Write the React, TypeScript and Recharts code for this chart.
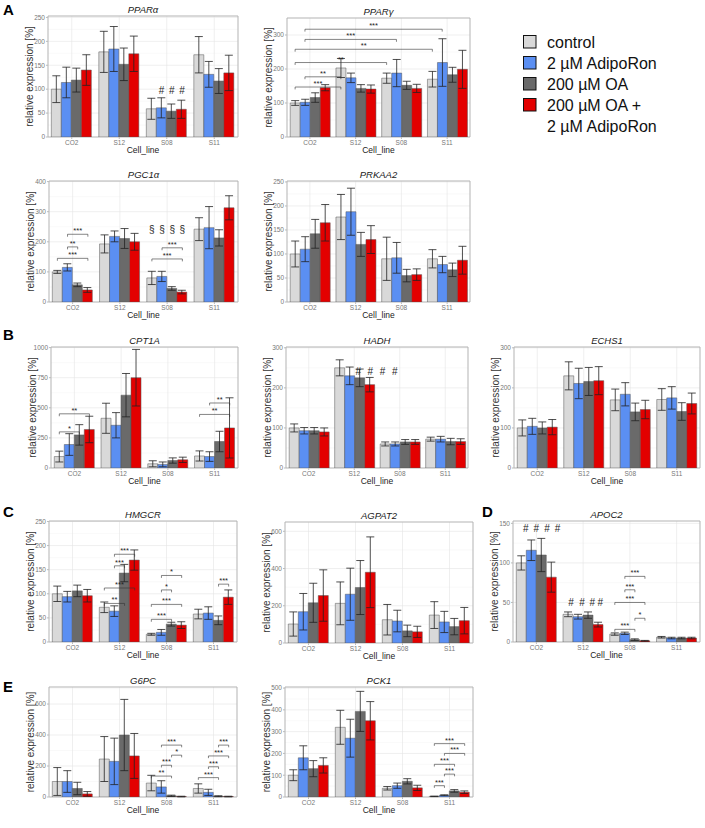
import React from 'react';
import { BarChart, Bar, XAxis, YAxis, CartesianGrid, ErrorBar, ReferenceLine, ReferenceDot, ReferenceArea } from 'recharts';

const CELL_LINES = ['CO2', 'S12', 'S08', 'S11'];
const TREATMENTS = ['control', '2 µM AdipoRon', '200 µM OA', '200 µM OA +', '2 µM AdipoRon'];
const COLORS = ['#d9d9d9', '#5b8ff2', '#6a6a6a', '#e30000'];

// rows = cell lines (CO2, S12, S08, S11); columns = treatments
const PPARA_MEAN = [[100, 114, 119, 140], [178, 184, 152, 174], [59, 61, 54, 58], [172, 131, 117, 134]];
const PPARA_SD = [[28, 32, 25, 32], [43, 47, 34, 37], [22, 21, 15, 19], [38, 27, 26, 37]];
const PPARG_MEAN = [[100, 102, 116, 145], [203, 174, 143, 141], [173, 188, 152, 143], [170, 219, 183, 199]];
const PPARG_SD = [[7, 9, 14, 9], [28, 14, 11, 12], [15, 40, 12, 12], [23, 70, 22, 56]];
const PGC1A_MEAN = [[100, 115, 57, 40], [193, 218, 211, 200], [80, 85, 45, 33], [242, 247, 213, 313]];
const PGC1A_SD = [[5, 12, 6, 8], [30, 18, 33, 28], [22, 17, 6, 6], [38, 70, 27, 40]];
const PRKAA2_MEAN = [[100, 110, 142, 165], [177, 188, 120, 130], [90, 92, 55, 57], [90, 78, 67, 87]];
const PRKAA2_SD = [[27, 26, 30, 38], [47, 49, 25, 29], [45, 32, 13, 12], [19, 17, 14, 29]];
const CPT1A_MEAN = [[95, 195, 275, 320], [413, 355, 605, 750], [35, 30, 62, 68], [100, 95, 220, 333]];
const CPT1A_SD = [[45, 90, 85, 110], [125, 105, 180, 235], [25, 20, 22, 22], [42, 40, 85, 250]];
const HADH_MEAN = [[100, 93, 93, 90], [250, 230, 225, 208], [60, 60, 65, 65], [72, 72, 66, 66]];
const HADH_SD = [[10, 8, 8, 10], [20, 22, 22, 18], [5, 5, 6, 6], [5, 7, 8, 7]];
const ECHS1_MEAN = [[100, 104, 100, 102], [230, 211, 216, 218], [170, 184, 140, 146], [171, 175, 141, 161]];
const ECHS1_SD = [[20, 20, 15, 19], [35, 38, 35, 35], [27, 29, 22, 23], [27, 28, 22, 26]];
const HMGCR_MEAN = [[100, 94, 106, 96], [72, 64, 143, 170], [16, 20, 37, 35], [58, 60, 45, 93]];
const HMGCR_SD = [[16, 11, 12, 13], [11, 11, 18, 21], [2, 6, 4, 7], [10, 13, 9, 15]];
const AGPAT2_MEAN = [[102, 168, 216, 255], [213, 262, 298, 380], [125, 118, 65, 60], [150, 113, 88, 120]];
const AGPAT2_SD = [[65, 98, 105, 138], [115, 140, 145, 190], [82, 58, 31, 30], [72, 57, 44, 71]];
const APOC2_MEAN = [[100, 116, 110, 82], [35, 32, 34, 22], [10, 11, 3, 1.5], [6, 5, 5, 5]];
const APOC2_SD = [[9, 13, 21, 19], [3, 3, 4, 3], [1.5, 1.5, 1, 0.5], [1, 1, 1, 1]];
const G6PC_MEAN = [[100, 100, 55, 20], [245, 230, 400, 265], [90, 65, 8, 3], [55, 30, 5, 3]];
const G6PC_SD = [[90, 70, 40, 15], [145, 150, 230, 145], [50, 40, 4, 2], [30, 20, 3, 2]];
const PCK1_MEAN = [[100, 180, 130, 145], [320, 270, 393, 350], [40, 52, 72, 42], [3, 8, 28, 22]];
const PCK1_SD = [[25, 55, 37, 35], [78, 87, 92, 88], [8, 12, 12, 12], [1, 2, 6, 6]];

// significance brackets: [cellFrom, treatFrom, cellTo, treatTo, height, label]
const PPARG_BRACKETS = [[0, 0, 1, 0, 147, '***'], [0, 1, 1, 0, 177, '**'], [0, 0, 2, 0, 219, '**'], [0, 0, 3, 0, 258, '**'], [0, 1, 2, 1, 287, '***'], [0, 1, 3, 1, 317, '***']];
const PGC1A_BRACKETS = [[0, 1, 0, 3, 225, '***'], [0, 1, 0, 2, 183, '**'], [0, 0, 0, 3, 145, '***'], [2, 1, 2, 3, 180, '***'], [2, 0, 2, 3, 143, '***']];
const CPT1A_BRACKETS = [[0, 0, 0, 3, 450, '**'], [0, 0, 0, 2, 300, '*'], [3, 1, 3, 3, 540, '**'], [3, 0, 3, 3, 445, '**']];
const HMGCR_BRACKETS = [[1, 1, 1, 3, 182, '***'], [1, 1, 1, 2, 158, '***'], [1, 0, 1, 3, 112, '***'], [1, 0, 1, 2, 80, '**'], [2, 1, 2, 3, 138, '*'], [2, 1, 2, 2, 108, '*'], [2, 0, 2, 3, 78, '***'], [2, 0, 2, 2, 47, '***'], [3, 2, 3, 3, 120, '***']];
const APOC2_BRACKETS = [[2, 1, 2, 3, 83, '***'], [2, 1, 2, 2, 66, '***'], [2, 0, 2, 3, 50, '***'], [2, 2, 2, 3, 30, '*'], [2, 0, 2, 2, 16, '***']];
const G6PC_BRACKETS = [[2, 1, 2, 3, 335, '***'], [2, 2, 2, 3, 270, '*'], [2, 1, 2, 2, 205, '***'], [2, 0, 2, 2, 135, '**'], [3, 2, 3, 3, 335, '***'], [3, 1, 3, 3, 265, '***'], [3, 1, 3, 2, 195, '***'], [3, 0, 3, 2, 125, '***']];
const PCK1_BRACKETS = [[3, 0, 3, 3, 245, '***'], [3, 1, 3, 3, 200, '***'], [3, 0, 3, 2, 150, '***'], [3, 1, 3, 2, 105, '***'], [3, 0, 3, 1, 52, '***']];

// symbols: [cell, treatment slot, height, label]
const PPARA_MARKS = [[2, 1, 98, '#'], [2, 2, 98, '#'], [2, 3, 98, '#']];
const PGC1A_MARKS = [[2, 0, 240, '§'], [2, 1, 240, '§'], [2, 2, 240, '§'], [2, 3, 240, '§']];
const HADH_MARKS = [[1, 1.9, 242, '#'], [1, 3.15, 242, '#'], [1, 4.4, 242, '#'], [1, 5.65, 242, '#']];
const APOC2_MARKS = [[0, 0.45, 143, '#'], [0, 1.5, 143, '#'], [0, 2.55, 143, '#'], [0, 3.6, 143, '#'], [1, 0.3, 50, '#'], [1, 1.4, 50, '#'], [1, 2.4, 50, '#'], [1, 3.2, 50, '#']];

const FONT = '"Liberation Sans", Arial, sans-serif';
const GAP = 0.07;

const PANELS = [
  { title: 'PPARα', mean: PPARA_MEAN, sd: PPARA_SD, box: [48, 16, 238, 137], top: 253, ticks: [0, 50, 100, 150, 200, 250], brackets: [], marks: PPARA_MARKS },
  { title: 'PPARγ', mean: PPARG_MEAN, sd: PPARG_SD, box: [287, 18, 470, 137], top: 350, ticks: [0, 100, 200, 300], brackets: PPARG_BRACKETS, marks: [] },
  { title: 'PGC1α', mean: PGC1A_MEAN, sd: PGC1A_SD, box: [49, 181, 238, 302], top: 402, ticks: [0, 100, 200, 300, 400], brackets: PGC1A_BRACKETS, marks: PGC1A_MARKS },
  { title: 'PRKAA2', mean: PRKAA2_MEAN, sd: PRKAA2_SD, box: [287, 181, 470, 302], top: 252, ticks: [0, 50, 100, 150, 200, 250], brackets: [], marks: [] },
  { title: 'CPT1A', mean: CPT1A_MEAN, sd: CPT1A_SD, box: [51, 347, 238, 468], top: 1005, ticks: [0, 250, 500, 750, 1000], brackets: CPT1A_BRACKETS, marks: [] },
  { title: 'HADH', mean: HADH_MEAN, sd: HADH_SD, box: [286, 347, 468, 468], top: 302, ticks: [0, 100, 200, 300], brackets: [], marks: HADH_MARKS },
  { title: 'ECHS1', mean: ECHS1_MEAN, sd: ECHS1_SD, box: [514, 347, 700, 468], top: 302, ticks: [0, 100, 200, 300], brackets: [], marks: [] },
  { title: 'HMGCR', mean: HMGCR_MEAN, sd: HMGCR_SD, box: [49, 521, 237, 642], top: 251, ticks: [0, 50, 100, 150, 200, 250], brackets: HMGCR_BRACKETS, marks: [] },
  { title: 'AGPAT2', mean: AGPAT2_MEAN, sd: AGPAT2_SD, box: [285, 522, 473, 643], top: 650, ticks: [0, 200, 400, 600], brackets: [], marks: [] },
  { title: 'APOC2', mean: APOC2_MEAN, sd: APOC2_SD, box: [513, 521, 700, 642], top: 153, ticks: [0, 50, 100, 150], brackets: APOC2_BRACKETS, marks: APOC2_MARKS },
  { title: 'G6PC', mean: G6PC_MEAN, sd: G6PC_SD, box: [49, 687, 237, 797], top: 710, ticks: [0, 200, 400, 600], brackets: G6PC_BRACKETS, marks: [] },
  { title: 'PCK1', mean: PCK1_MEAN, sd: PCK1_SD, box: [285, 687, 473, 797], top: 505, ticks: [0, 100, 200, 300, 400, 500], brackets: PCK1_BRACKETS, marks: [] },
];

const LETTERS = [['A', 3, 15], ['B', 3, 340], ['C', 3, 517], ['D', 482, 517], ['E', 3, 692]];

function Panel({ cfg }: { cfg: any }) {
  const [l, t, r, b] = cfg.box;
  const data = CELL_LINES.map((c, i) => {
    const row: any = { cell: c, idx: i + 0.5 };
    for (let k = 0; k < 4; k++) {
      row['v' + k] = cfg.mean[i][k];
      row['e' + k] = cfg.sd[i][k];
    }
    return row;
  });
  const step = cfg.ticks[1] - cfg.ticks[0];
  const minor: number[] = [];
  for (let v = step / 2; v < cfg.top; v += step) minor.push(v);
  const tip = cfg.top * 0.02;
  const bw = (1 - 2 * GAP) / 4;
  const xpos = (g: number, k: number) => g + 0.5 + (k - 1.5) * bw;
  const w = r - l + 44;
  const h = b - t + 24;
  const lineProps = { xAxisId: 'n', stroke: '#333', strokeWidth: 0.6, ifOverflow: 'visible' as const };
  return (
    <div style={{ position: 'absolute', left: l - 40, top: t - 2 }}>
      <BarChart width={w} height={h} data={data} margin={{ top: 2, right: 4, bottom: 0, left: 6 }} barCategoryGap={`${GAP * 100}%`} barGap={0}>
        <CartesianGrid horizontalValues={minor} vertical={false} stroke="#f1f1f1" strokeWidth={0.4} />
        <CartesianGrid stroke="#e4e4e4" strokeWidth={0.6} />
        <XAxis dataKey="cell" xAxisId={0} height={22} interval={0} tick={{ fontSize: 6.5, fill: '#777', fontFamily: FONT }} tickSize={2} tickMargin={1} tickLine={{ stroke: '#bbb' }} axisLine={false} />
        <XAxis xAxisId="n" type="number" dataKey="idx" domain={[0, 4]} hide allowDataOverflow />
        <YAxis width={34} domain={[0, cfg.top]} ticks={cfg.ticks} interval={0} allowDataOverflow tick={{ fontSize: 6.5, fill: '#777', fontFamily: FONT }} tickSize={2} tickMargin={1} tickLine={{ stroke: '#bbb' }} axisLine={false} />
        {[0, 1, 2, 3].map((k) => (
          <Bar key={k} dataKey={'v' + k} name={TREATMENTS[k]} fill={COLORS[k]} stroke="#555" strokeWidth={0.5} isAnimationActive={false}>
            <ErrorBar dataKey={'e' + k} width={4} stroke="#222" strokeWidth={0.8} />
          </Bar>
        ))}
        <ReferenceArea xAxisId="n" x1={0} x2={4} y1={0} y2={cfg.top} fill="none" stroke="#b3b3b3" strokeWidth={0.9} ifOverflow="visible" />
        {cfg.brackets.flatMap((br: any, i: number) => {
          const [g1, k1, g2, k2, y, lab] = br;
          const x1 = xpos(g1, k1);
          const x2 = xpos(g2, k2);
          return [
            <ReferenceLine key={'h' + i} {...lineProps} segment={[{ x: x1, y }, { x: x2, y }]} label={{ value: lab, position: 'top', offset: 1, fontSize: 7.5, fill: '#222', fontFamily: FONT }} />,
            <ReferenceLine key={'a' + i} {...lineProps} segment={[{ x: x1, y }, { x: x1, y: y - tip }]} />,
            <ReferenceLine key={'b' + i} {...lineProps} segment={[{ x: x2, y }, { x: x2, y: y - tip }]} />,
          ];
        })}
        {cfg.marks.map((m: any, i: number) => (
          <ReferenceDot key={'m' + i} xAxisId="n" x={xpos(m[0], m[1])} y={m[2]} r={1} fill="none" stroke="none" ifOverflow="visible" label={{ value: m[3], position: 'center', fontSize: 10, fill: '#222', fontFamily: FONT }} />
        ))}
      </BarChart>
    </div>
  );
}

export default function App() {
  return (
    <div style={{ position: 'absolute', left: 0, top: 0, width: 705, height: 828, background: '#fff', fontFamily: FONT }}>
      {PANELS.map((p, i) => <Panel key={i} cfg={p} />)}
      <svg width={705} height={828} style={{ position: 'absolute', left: 0, top: 0, pointerEvents: 'none' }} fontFamily={FONT}>
        {LETTERS.map(([s, x, y]: any) => (
          <text key={s} x={x} y={y} fontSize={15} fontWeight="bold" fill="#000">{s}</text>
        ))}
        {PANELS.map((p, i) => {
          const [l, t, r, b] = p.box;
          const cx = (l + r) / 2;
          const cy = (t + b) / 2;
          return (
            <g key={i}>
              <text x={cx} y={t - 3.5} textAnchor="middle" fontSize={9.5} fontStyle="italic" fill="#1a1a1a">{p.title}</text>
              <text transform={`translate(${l - 15},${cy}) rotate(-90)`} textAnchor="middle" fontSize={10} fill="#333">relative expression [%]</text>
              <text x={cx} y={b + 16} textAnchor="middle" fontSize={8.5} fill="#222">Cell_line</text>
            </g>
          );
        })}
        {[0, 1, 2, 3].map((k) => (
          <rect key={k} x={523.5} y={35.5 + k * 21} width={12.5} height={12.5} fill={COLORS[k]} stroke="#111" strokeWidth={1} />
        ))}
        {TREATMENTS.map((s, k) => (
          <text key={k} x={547} y={47.5 + k * 21} fontSize={16} fill="#111">{s}</text>
        ))}
      </svg>
    </div>
  );
}
